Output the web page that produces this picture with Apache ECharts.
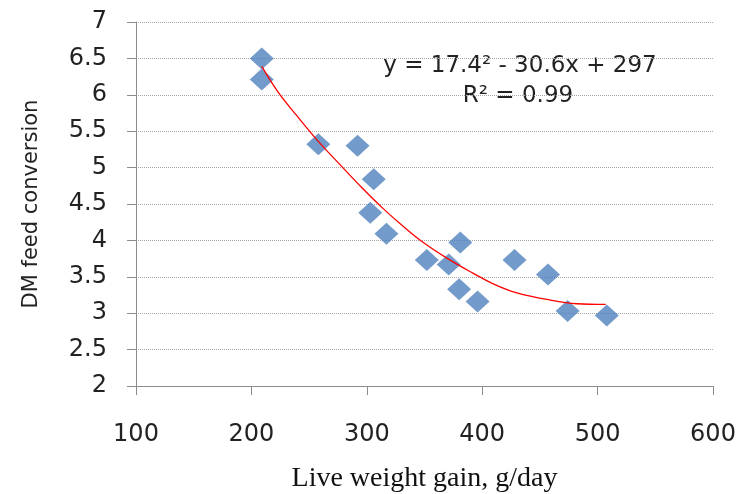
<!DOCTYPE html>
<html>
<head>
<meta charset="utf-8">
<script src="https://cdn.jsdelivr.net/npm/echarts@6/dist/echarts.min.js"></script>
<style>
html, body { margin: 0; padding: 0; background: #fff; }
#main { width: 739px; height: 494px; }
</style>
</head>
<body>
<div id="main"></div>
<script>
// observed points: live weight gain (g/day) vs DM feed conversion
var gainX = [209, 209, 258, 292, 306, 303, 317, 352, 371, 381, 380, 396, 428, 457, 474, 508];
var convY = [6.50, 6.21, 5.32, 5.30, 4.84, 4.38, 4.09, 3.73, 3.67, 3.97, 3.33, 3.16, 3.73, 3.53, 3.03, 2.97];

// polynomial trend line
var trendX = [209, 223, 239, 258, 278, 296, 314, 331, 349, 369, 392, 410, 430, 459, 482, 507];
var trendY = [6.39, 6.04, 5.72, 5.36, 5.02, 4.72, 4.44, 4.20, 3.97, 3.76, 3.55, 3.40, 3.28, 3.18, 3.13, 3.12];

var eqText = 'y = 17.4\u00b2 - 30.6x + 297';
var r2Text = 'R\u00b2 = 0.99';

function pairs(xs, ys) {
	var out = [];
	for (var i = 0; i < xs.length; i++) {
		out.push([xs[i], ys[i]]);
	}
	return out;
}

var axisGrey = '#8c8c8c';
var myChart = echarts.init(document.getElementById('main'));
myChart.setOption({
	animation: false,
	grid: { left: 136, right: 26, top: 22, bottom: 108, containLabel: false, outerBoundsMode: 'none' },
	xAxis: {
		type: 'value',
		min: 100,
		max: 600,
		interval: 100,
		name: 'Live weight gain, g/day',
		nameLocation: 'middle',
		nameGap: 79,
		nameTextStyle: { fontFamily: 'Liberation Serif', fontSize: 28, color: '#111' },
		axisLine: { show: true, lineStyle: { color: axisGrey, width: 1 } },
		axisTick: { show: true, length: 9, lineStyle: { color: axisGrey } },
		axisLabel: { margin: 37, fontFamily: 'DejaVu Sans', fontSize: 24, color: '#222' },
		splitLine: { show: false }
	},
	yAxis: {
		type: 'value',
		min: 2,
		max: 7,
		interval: 0.5,
		name: 'DM feed conversion',
		nameLocation: 'middle',
		nameGap: 94,
		nameTextStyle: { fontFamily: 'DejaVu Sans', fontSize: 21, color: '#222' },
		axisLine: { show: true, lineStyle: { color: axisGrey, width: 1 } },
		axisTick: { show: true, length: 9, lineStyle: { color: axisGrey } },
		axisLabel: { margin: 29, fontFamily: 'DejaVu Sans', fontSize: 24, color: '#222' },
		splitLine: { show: true, lineStyle: { color: '#a6a6a6', type: 'dotted', width: 1 } }
	},
	series: [{
		type: 'scatter',
		symbol: 'diamond',
		symbolSize: [24, 22],
		itemStyle: { color: '#4f81bd' },
		data: pairs(gainX, convY)
	}, {
		type: 'line',
		smooth: 0.4,
		symbol: 'none',
		lineStyle: { color: '#ff0000', width: 1.3 },
		data: pairs(trendX, trendY),
		z: 3
	}],
	graphic: [{
		type: 'text',
		x: 520,
		y: 66,
		style: { text: eqText, textAlign: 'center', textVerticalAlign: 'middle', font: '23px "DejaVu Sans"', fill: '#222' }
	}, {
		type: 'text',
		x: 518,
		y: 96,
		style: { text: r2Text, textAlign: 'center', textVerticalAlign: 'middle', font: '23px "DejaVu Sans"', fill: '#222' }
	}]
});
</script>
</body>
</html>
